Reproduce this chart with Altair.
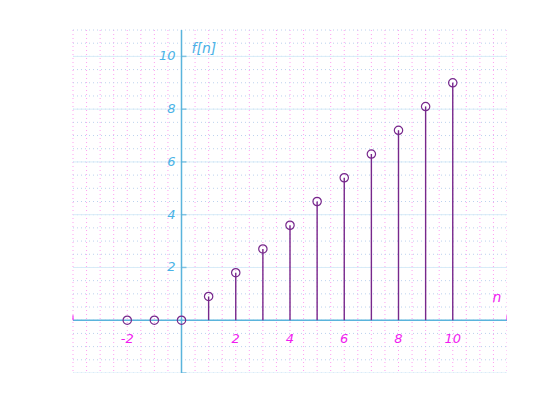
import altair as alt
import numpy as np
import pandas as pd

# data
n_vals = [-2, -1, 0, 1, 2, 3, 4, 5, 6, 7, 8, 9, 10]
f_vals = [0, 0, 0, 0.9, 1.8, 2.7, 3.6, 4.5, 5.4, 6.3, 7.2, 8.1, 9.0]
x_tick_values = [-2, 2, 4, 6, 8, 10]
x_tick_text = ["-2", "2", "4", "6", "8", "10"]
y_tick_values = [2, 4, 6, 8, 10]
y_tick_text = ["2", "4", "6", "8", "10"]
y_major = [-2, 2, 4, 6, 8, 10]
x_domain = [-4, 12]
y_domain = [-2, 11]

W, H = 434, 343
FONT = "DejaVu Sans"
BLUE_AXIS = "#5ab4dc"
BLUE_TEXT = "#4ab2e6"
MAGENTA = "#f01cf0"
PURPLE = "#77288c"
PINK_DOT = "#ff9ff0"
BLUE_DOT = "#bcd2ee"
BLUE_GRID = "#d8ecf8"

df = pd.DataFrame({"n": n_vals, "f": f_vals, "zero": [0] * len(n_vals)})
xs = alt.Scale(domain=x_domain, nice=False, zero=False)
ys = alt.Scale(domain=y_domain, nice=False, zero=False)


def X(field):
    return alt.X(field, type="quantitative", scale=xs, axis=None)


def Y(field):
    return alt.Y(field, type="quantitative", scale=ys, axis=None)


xminor = pd.DataFrame({"x": np.arange(x_domain[0], x_domain[1] + 0.01, 0.5)})
yminor = pd.DataFrame({"y": np.arange(y_domain[0], y_domain[1] + 0.01, 0.5)})

vdots = alt.Chart(xminor).mark_rule(color=PINK_DOT, strokeWidth=1, strokeDash=[1, 3]).encode(
    x=X("x"), y=alt.value(0), y2=alt.value(H))
hdots = alt.Chart(yminor).mark_rule(color=BLUE_DOT, strokeWidth=1, strokeDash=[1, 3]).encode(
    y=Y("y"), x=alt.value(0), x2=alt.value(W))
hgrid = alt.Chart(pd.DataFrame({"y": y_major})).mark_rule(color=BLUE_GRID, strokeWidth=1).encode(
    y=Y("y"), x=alt.value(0), x2=alt.value(W))

xaxis = alt.Chart(pd.DataFrame({"y": [0]})).mark_rule(color=BLUE_AXIS, strokeWidth=1.5).encode(
    y=Y("y"), x=alt.value(0), x2=alt.value(W))
yaxis = alt.Chart(pd.DataFrame({"x": [0]})).mark_rule(color=BLUE_AXIS, strokeWidth=1.5).encode(
    x=X("x"), y=alt.value(0), y2=alt.value(H))

xend_ticks = alt.Chart(pd.DataFrame({"x": x_domain, "y": [0, 0]})).mark_tick(
    color=MAGENTA, orient="vertical", size=5, thickness=1.5, yOffset=-2.5).encode(
    x=X("x"), y=Y("y"))
yticks = alt.Chart(pd.DataFrame({"y": y_major, "x": [0] * len(y_major)})).mark_tick(
    color=BLUE_AXIS, orient="horizontal", size=5, thickness=1.5, xOffset=2.5).encode(
    y=Y("y"), x=X("x"))

stems = alt.Chart(df).transform_filter("datum.f != 0").mark_rule(color=PURPLE, strokeWidth=1.4).encode(
    x=X("n"), y=Y("f"), y2="zero:Q")
dots = alt.Chart(df).mark_point(shape="circle", filled=False, color=PURPLE, size=70, strokeWidth=1.2,
                                opacity=1).encode(
    x=X("n"), y=Y("f"))

xlabels = alt.Chart(pd.DataFrame({"x": x_tick_values, "t": x_tick_text, "y": [0] * len(x_tick_values)})).mark_text(
    color=MAGENTA, font=FONT, fontStyle="italic", fontSize=13, dy=19, baseline="middle").encode(
    x=X("x"), y=Y("y"), text="t:N")
ylabels = alt.Chart(pd.DataFrame({"y": y_tick_values, "t": y_tick_text, "x": [0] * len(y_tick_values)})).mark_text(
    color=BLUE_TEXT, font=FONT, fontStyle="italic", fontSize=13, dx=-6, align="right", baseline="middle").encode(
    y=Y("y"), x=X("x"), text="t:N")

ytitle = alt.Chart(pd.DataFrame({"t": ["f[n]"], "x": [0]})).mark_text(
    color=BLUE_TEXT, font=FONT, fontStyle="italic", fontSize=14, align="left", baseline="middle", dx=10).encode(
    x=X("x"), y=alt.value(19), text="t:N")
xtitle = alt.Chart(pd.DataFrame({"t": ["n"], "x": [12], "y": [0]})).mark_text(
    color=MAGENTA, font=FONT, fontStyle="italic", fontSize=14, align="center", baseline="middle", dx=-10, dy=-22).encode(
    x=X("x"), y=Y("y"), text="t:N")

chart = alt.layer(
    vdots, hdots, hgrid, xaxis, yaxis, xend_ticks, yticks, stems, dots, xlabels, ylabels, ytitle, xtitle
).properties(
    width=W, height=H, padding={"left": 65, "top": 22, "right": 0, "bottom": 0},
    autosize=alt.AutoSizeParams(type="none"), background="white"
).configure_view(stroke=None)

chart.save("out.html", embed_options={"renderer": "svg", "actions": False})
